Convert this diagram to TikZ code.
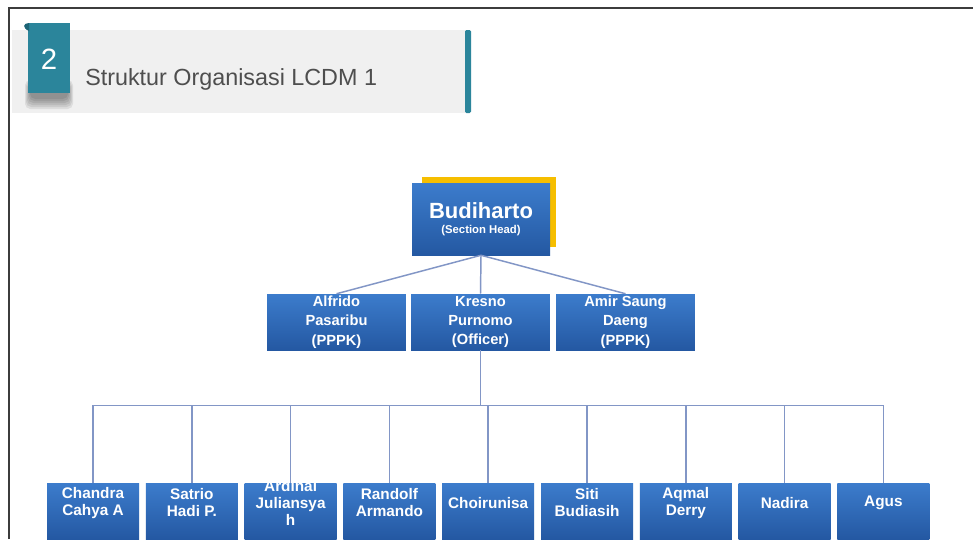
\documentclass[tikz,border=0pt]{standalone}
\usepackage{fontspec}
\setmainfont{Liberation Sans}
\definecolor{framegrey}{RGB}{60,60,60}
\definecolor{bandgrey}{RGB}{240,240,240}
\definecolor{tabteal}{RGB}{43,133,155}
\definecolor{tabdark}{RGB}{28,100,118}
\definecolor{titlegrey}{RGB}{78,78,78}
\definecolor{boxtop}{RGB}{60,124,204}
\definecolor{boxbot}{RGB}{36,88,162}
\definecolor{headyellow}{RGB}{246,190,0}
\definecolor{linkblue}{RGB}{130,150,198}
\tikzset{
  person/.style={rectangle, top color=boxtop, bottom color=boxbot, text=white,
    align=center, inner sep=0pt},
  mid/.style={person, minimum width=104pt, minimum height=42pt,
    font=\bfseries\fontsize{11}{14.6}\selectfont},
  leaf/.style={person, minimum width=69pt, minimum height=42pt},
  leaftext/.style={text=white, align=center, inner sep=0pt,
    font=\bfseries\fontsize{11.5}{12.75}\selectfont},
  link/.style={draw=linkblue, line width=1.1pt}
}
\begin{document}
\begin{tikzpicture}[x=0.75pt, y=-0.75pt]
    \useasboundingbox (0,0) rectangle (973,539);
    \fill[white] (0,0) rectangle (973,539);
    \draw[framegrey, line width=1.5pt] (9,539) -- (9,8) -- (973,8);
    \fill[bandgrey] (12,30) rectangle (468,113);
    \fill[tabteal, rounded corners=1pt] (465,30) rectangle (471,113);
    \foreach \s in {0,...,5}
        \fill[black, opacity=0.08, rounded corners=4pt] ({25+\s},{80+\s}) rectangle ({73-\s},{109-2*\s});
    \fill[tabteal] (28,23) rectangle (70,93);
    \fill[tabdark] (29,23) .. controls (23,23) and (22,28) .. (29,31) -- cycle;
    \node[text=white, font=\fontsize{22}{24}\selectfont] (num) at (49,59) {2};
    \node[anchor=base west, inner sep=0pt, text=titlegrey, font=\fontsize{17.5}{20}\selectfont] (title) at (85,85) {Struktur Organisasi LCDM 1};
    \fill[headyellow] (422,177) rectangle (556,247);
    \node[person, minimum width=103.5pt, minimum height=54pt] (boss) at (481,219) {{\bfseries\fontsize{16.5}{18}\selectfont Budiharto}\\[-1pt]{\bfseries\fontsize{8.5}{10}\selectfont (Section Head)}};
    \node[mid] (alf) at (336.5,322) {Alfrido\\Pasaribu\\(PPPK)};
    \node[mid] (kres) at (480.5,322) {Kresno\\Purnomo\\(Officer)};
    \node[mid] (amir) at (625.5,322) {Amir Saung\\Daeng\\(PPPK)};
    \draw[link] (boss.south) -- (alf.north);
    \draw[link] (boss.south) -- (kres.north);
    \draw[link] (boss.south) -- (amir.north);
    \path (kres.south) ++(0,55) coordinate (bus);
    \draw[link] (kres.south) -- (bus);
    \foreach \who [count=\i] in {{Chandra\\Cahya A}, {Satrio\\Hadi P.}, {Ardinal\\Juliansya\\h}, {Randolf\\Armando}, {Choirunisa}, {Siti\\Budiasih}, {Aqmal\\Derry}, {Nadira}, {Agus}} {
        \node[leaf] (b\i) at ({93+98.8*(\i-1)},511) {};
        \node[leaftext] (t\i) at ([yshift=6pt]b\i.center) {\who};
        \draw[link] (b\i.north) |- (bus);
    }
\end{tikzpicture}
\end{document}
